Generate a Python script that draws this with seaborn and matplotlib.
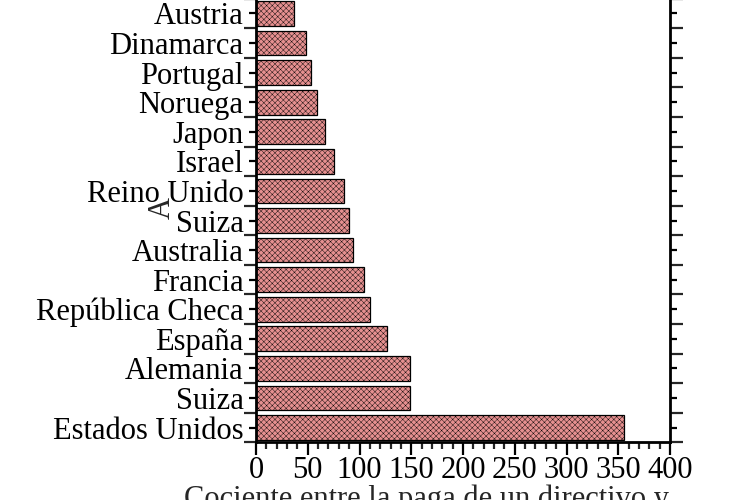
import matplotlib
matplotlib.use("Agg")
import matplotlib.pyplot as plt
import seaborn as sns
import pandas as pd
import numpy as np
from matplotlib.ticker import MultipleLocator, FixedLocator

paises = ["Austria", "Dinamarca", "Portugal", "Noruega", "Japon", "Israel",
          "Reino Unido", "Suiza", "Australia", "Francia", "República Checa",
          "España", "Alemania", "Suiza", "Estados Unidos"]
cociente = [37, 48, 53, 59, 67, 75, 85, 90, 94, 104, 110, 127, 149, 149, 356]

sns.set_style("ticks")
plt.rcParams['font.family'] = ['Liberation Serif', 'DejaVu Serif']
plt.rcParams['hatch.linewidth'] = 0.3
plt.rcParams['hatch.color'] = '#a04848'

df = pd.DataFrame({"clave": [str(i) for i in range(len(paises))],
                   "cociente": cociente})

fig = plt.figure(figsize=(7.3, 5.0), dpi=100)
ax = fig.add_axes([256 / 730, 57.7 / 500, 414 / 730, 443.6 / 500])

sns.barplot(data=df, x="cociente", y="clave", orient="h", color="#e69090",
            saturation=1, width=0.84, ax=ax)
for p in ax.patches:
    p.set_hatch("xxxxxx")
    p.set_edgecolor("black")
    p.set_linewidth(0.9)
    if hasattr(p, "set_hatchcolor"):
        p.set_hatchcolor("#a04848")

n = len(paises)
ax.set_ylim(n - 0.5, -0.5)
ax.yaxis.set_major_locator(FixedLocator(range(n)))
ax.yaxis.set_minor_locator(FixedLocator(np.arange(-0.5, n, 1)))
ax.set_yticklabels(paises)

ax.set_xlim(0, 400)
ax.xaxis.set_major_locator(MultipleLocator(50))
ax.xaxis.set_minor_locator(MultipleLocator(10))

ax.set_xlabel("")
ax.set_ylabel("")

for s in ax.spines.values():
    s.set_linewidth(2)
    s.set_color("black")

fs = 22
ax.tick_params(axis="y", which="major", left=True, right=True, length=5,
               width=1.6, direction="out", labelsize=fs, pad=4, colors="black")
ax.tick_params(axis="y", which="minor", left=True, right=True, length=9,
               width=1.6, direction="out")
ax.tick_params(axis="x", which="major", length=9, width=1.6, direction="out",
               labelsize=fs, pad=1, colors="black")
ax.tick_params(axis="x", which="minor", length=5, width=1.6, direction="out")

fig.text(427 / 730, 15 / 500, "Cociente entre la paga de un directivo y",
         ha="center", va="top", fontsize=fs)
fig.text(162 / 730, 1 - 208 / 500, "A", rotation=90, ha="center", va="center",
         fontsize=fs)

fig.savefig("out.png", dpi=100)
